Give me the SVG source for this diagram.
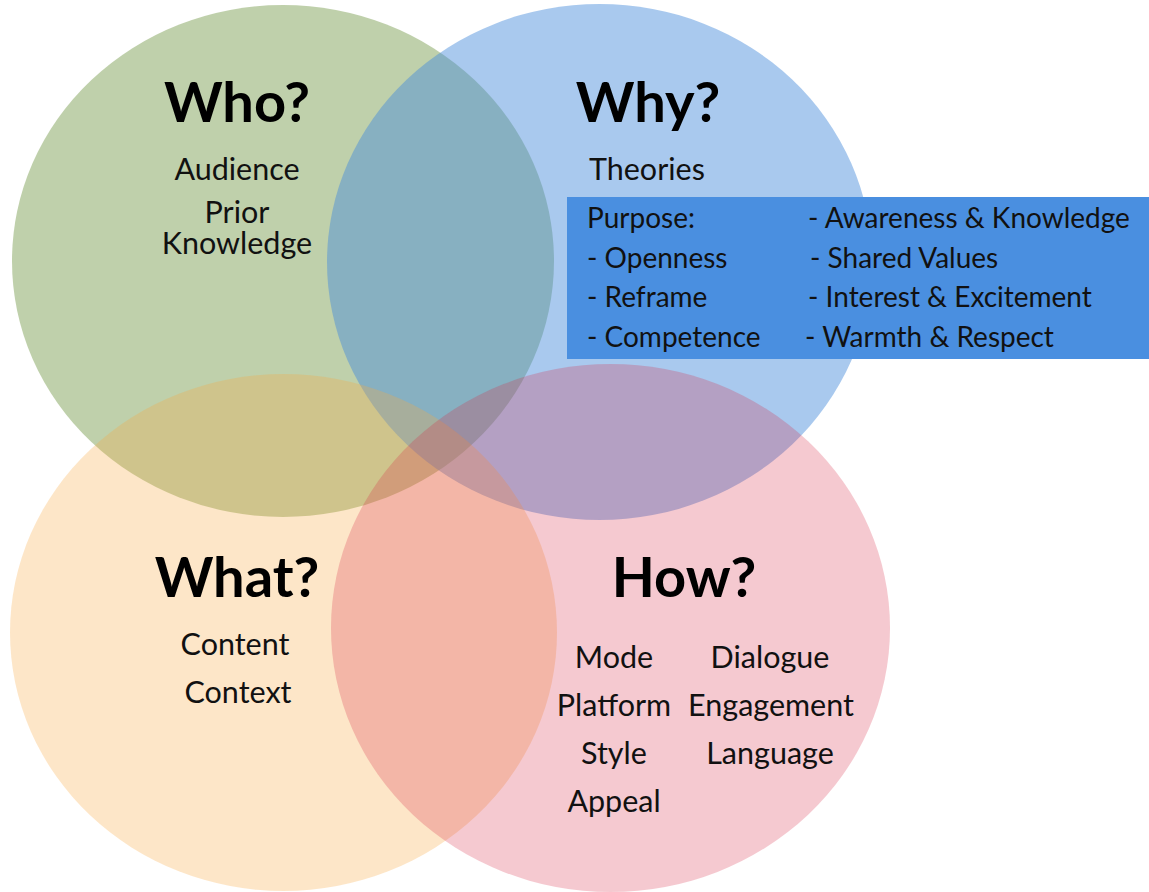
<svg xmlns="http://www.w3.org/2000/svg" width="1149" height="892" viewBox="0 0 1149 892">
<style>
.h{font-family:Lato,"Open Sans","Liberation Sans",sans-serif;font-weight:700;font-size:56px;fill:#000;text-anchor:middle}
.t{font-family:Lato,"Open Sans","Liberation Sans",sans-serif;font-size:30.5px;fill:#111}
.c{text-anchor:middle}
.b{font-family:Lato,"Open Sans","Liberation Sans",sans-serif;font-size:28px;fill:#111}
</style>
<rect width="1149" height="892" fill="#fff"/>
<g id="who">
<ellipse cx="283" cy="261" rx="271" ry="256" fill="#7fa157" fill-opacity="0.5"/>
</g>
<g id="why">
<ellipse cx="599.5" cy="262" rx="272.5" ry="258" fill="#488cdb" fill-opacity="0.47"/>
</g>
<g id="what">
<ellipse cx="283.5" cy="632.5" rx="273.5" ry="258.5" fill="#f8a941" fill-opacity="0.29"/>
</g>
<g id="how">
<ellipse cx="610.5" cy="628" rx="279.5" ry="264" fill="#d82844" fill-opacity="0.25"/>
</g>
<g id="who-text">
<text class="h" x="237" y="122">Who?</text>
<text class="t c" x="237" y="180">Audience</text>
<text class="t c" x="237" y="223">Prior</text>
<text class="t c" x="237" y="254">Knowledge</text>
</g>
<g id="why-text">
<text class="h" x="648" y="122">Why?</text>
<text class="t" x="589" y="180">Theories</text>
</g>
<g id="purpose-box">
<rect x="567" y="197" width="582" height="162" fill="#4a8fe0"/>
<text class="b" x="587" y="228">Purpose:</text>
<text class="b" x="587" y="268">- Openness</text>
<text class="b" x="587" y="307">- Reframe</text>
<text class="b" x="587" y="347">- Competence</text>
<text class="b" x="808" y="228">- Awareness &amp; Knowledge</text>
<text class="b" x="810" y="268">- Shared Values</text>
<text class="b" x="808" y="307">- Interest &amp; Excitement</text>
<text class="b" x="805" y="347">- Warmth &amp; Respect</text>
</g>
<g id="what-text">
<text class="h" x="237" y="597">What?</text>
<text class="t c" x="235" y="655">Content</text>
<text class="t c" x="238" y="703">Context</text>
</g>
<g id="how-text">
<text class="h" x="684" y="597">How?</text>
<text class="t c" x="614" y="668">Mode</text>
<text class="t c" x="614" y="716">Platform</text>
<text class="t c" x="614" y="764">Style</text>
<text class="t c" x="614" y="812">Appeal</text>
<text class="t c" x="770" y="668">Dialogue</text>
<text class="t c" x="771" y="716">Engagement</text>
<text class="t c" x="770" y="764">Language</text>
</g>
<g id="connectors"/>
</svg>
